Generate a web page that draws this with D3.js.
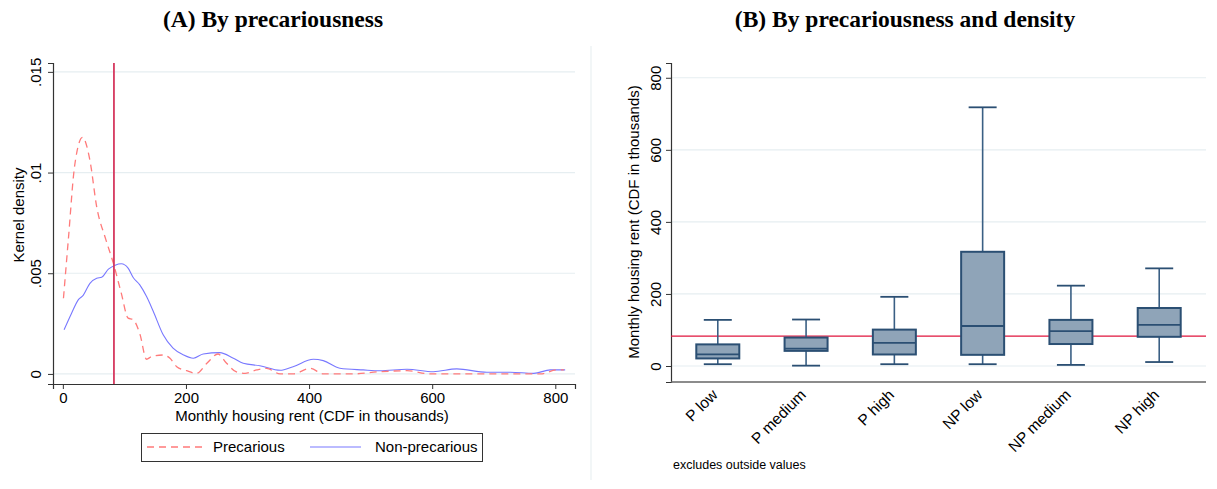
<!DOCTYPE html>
<html>
<head>
<meta charset="utf-8">
<script src="https://cdn.jsdelivr.net/npm/d3@7"></script>
<style>
  body { margin: 0; background: #fff; }
  text { font-family: Arial, "Liberation Sans", sans-serif; fill: #000; }
  .title { font-family: "Liberation Serif", "Times New Roman", serif; font-weight: bold; font-size: 23.5px; }
</style>
</head>
<body>
<div id="chart-area"></div>
<script>
// panel A: kernel densities (rent, density)
var rentPrec = [1, 9, 19, 32, 44, 55, 70, 82, 95, 106, 114, 125, 136, 144, 163, 174, 185, 201, 217, 234, 252, 266, 282, 296, 315, 331, 353, 374, 402, 423, 470, 515, 559, 597, 690, 776, 803, 814];
var densPrec = [0.00376, 0.0067, 0.0103, 0.01175, 0.0106, 0.0083, 0.00666, 0.0055, 0.0040, 0.00277, 0.0027, 0.0020, 0.00073, 0.00086, 0.00094, 0.00078, 0.00036, 0.00016, 0.00003, 0.00053, 0.00099, 0.00053, 0.0001, 0.00003, 0.0002, 0.00028, 0, 0, 0.00028, 0, 0, 0.00011, 0.00016, 0, 0, 0, 0.0002, 0.0002];

var rentNonPrec = [2, 14, 25, 33, 44, 55, 63, 74, 85, 95, 106, 114, 125, 136, 147, 163, 179, 196, 212, 228, 255, 277, 293, 320, 353, 374, 407, 423, 450, 488, 515, 559, 602, 640, 689, 727, 765, 792, 816];
var densNonPrec = [0.00219, 0.0030, 0.00368, 0.0039, 0.0045, 0.00475, 0.0048, 0.0052, 0.0054, 0.00547, 0.00525, 0.0048, 0.00442, 0.00384, 0.0031, 0.00194, 0.00128, 0.00094, 0.00078, 0.00099, 0.00106, 0.00078, 0.00053, 0.00041, 0.00018, 0.00036, 0.00073, 0.00066, 0.00028, 0.0002, 0.00016, 0.00023, 0.00011, 0.00025, 0.00008, 0.00008, 0.00003, 0.0002, 0.0002];

var medianRent = 83;

var xTicksA = [0, 200, 400, 600, 800];
var yTicksA = [0, 0.005, 0.01, 0.015];
var yTickLabelsA = ["0", ".005", ".01", ".015"];

// panel B: box plots
var groups = ["P low", "P medium", "P high", "NP low", "NP medium", "NP high"];
var whiskLo = [5, 1, 5, 5, 3, 11];
var q1 = [21, 42, 32, 31, 61, 81];
var med = [32, 48, 64, 111, 97, 114];
var q3 = [60, 79, 101, 317, 128, 161];
var whiskHi = [128, 129, 192, 718, 223, 271];

var yTicksB = [0, 200, 400, 600, 800];

var svg = d3.select("#chart-area").append("svg")
    .attr("width", 1217)
    .attr("height", 489);

var gridColor = "#e6eef1";
var axisColor = "#333";

// ---------- Panel A ----------
var xA = d3.scaleLinear().domain([-16, 832]).range([53, 575]);
var yA = d3.scaleLinear().domain([-0.0005, 0.01544]).range([384, 63]);

svg.append("text").attr("class", "title")
    .attr("x", 273).attr("y", 27).attr("text-anchor", "middle")
    .text("(A) By precariousness");

var gA = svg.append("g");

gA.selectAll(".gridA").data(yTicksA).enter().append("line")
    .attr("x1", 53).attr("x2", 575)
    .attr("y1", function(d){ return yA(d); })
    .attr("y2", function(d){ return yA(d); })
    .attr("stroke", gridColor).attr("stroke-width", 1.2);

var yAxisA = d3.axisLeft(yA).tickValues(yTicksA).tickSize(5)
    .tickFormat(function(d, i){ return yTickLabelsA[i]; });
var yAxA = gA.append("g").attr("transform", "translate(53,0)").call(yAxisA);
yAxA.select(".domain").attr("stroke", axisColor).attr("stroke-width", 1.2);
yAxA.selectAll(".tick line").attr("stroke", axisColor);
yAxA.selectAll(".tick text")
    .attr("font-size", 15)
    .attr("transform", "rotate(-90)")
    .attr("x", 0).attr("y", -12)
    .attr("dy", 0)
    .attr("text-anchor", "middle");

var xAxisA = d3.axisBottom(xA).tickValues(xTicksA).tickSize(5).tickFormat(d3.format("d"));
var xAxA = gA.append("g").attr("transform", "translate(0,384)").call(xAxisA);
xAxA.select(".domain").attr("stroke", axisColor).attr("stroke-width", 1.2);
xAxA.selectAll(".tick line").attr("stroke", axisColor);
xAxA.selectAll(".tick text").attr("font-size", 15).attr("y", 8);

gA.append("text")
    .attr("x", 312).attr("y", 421).attr("text-anchor", "middle")
    .attr("font-size", 15)
    .text("Monthly housing rent (CDF in thousands)");

gA.append("text")
    .attr("transform", "translate(24,215) rotate(-90)")
    .attr("text-anchor", "middle").attr("font-size", 15)
    .text("Kernel density");

var lineA = d3.line()
    .x(function(d){ return xA(d[0]); })
    .y(function(d){ return yA(d[1]); })
    .curve(d3.curveMonotoneX);

gA.append("path")
    .datum(d3.zip(rentNonPrec, densNonPrec))
    .attr("d", lineA)
    .attr("fill", "none").attr("stroke", "#7878ff").attr("stroke-width", 1.1);

gA.append("path")
    .datum(d3.zip(rentPrec, densPrec))
    .attr("d", lineA)
    .attr("fill", "none").attr("stroke", "#ff7a7a").attr("stroke-width", 1.3)
    .attr("stroke-dasharray", "7,5");

gA.append("line")
    .attr("x1", xA(medianRent)).attr("x2", xA(medianRent))
    .attr("y1", 63).attr("y2", 384)
    .attr("stroke", "#d6395f").attr("stroke-width", 1.8);

// legend
var leg = gA.append("g");
leg.append("rect")
    .attr("x", 141.5).attr("y", 433.5).attr("width", 341).attr("height", 28)
    .attr("fill", "#fff").attr("stroke", "#333").attr("stroke-width", 1);
leg.append("line")
    .attr("x1", 147).attr("x2", 204).attr("y1", 447).attr("y2", 447)
    .attr("stroke", "#ff7a7a").attr("stroke-width", 1.3).attr("stroke-dasharray", "7,5");
leg.append("text").attr("x", 213).attr("y", 452).attr("font-size", 15).text("Precarious");
leg.append("line")
    .attr("x1", 310).attr("x2", 361).attr("y1", 447).attr("y2", 447)
    .attr("stroke", "#7878ff").attr("stroke-width", 1.1);
leg.append("text").attr("x", 375).attr("y", 452).attr("font-size", 15).text("Non-precarious");

// separator between panels
svg.append("line")
    .attr("x1", 591).attr("x2", 591).attr("y1", 46).attr("y2", 480)
    .attr("stroke", "#e9f0f2").attr("stroke-width", 1.2);

// ---------- Panel B ----------
var xB = d3.scalePoint().domain(groups).range([671, 1206]).padding(0.53);
var yB = d3.scaleLinear().domain([-44.4, 841]).range([382, 63]);
var boxW = 43, capW = 28;

svg.append("text").attr("class", "title")
    .attr("x", 905).attr("y", 27).attr("text-anchor", "middle")
    .text("(B) By precariousness and density");

var gB = svg.append("g");

gB.selectAll(".gridB").data(yTicksB).enter().append("line")
    .attr("x1", 671).attr("x2", 1206)
    .attr("y1", function(d){ return yB(d); })
    .attr("y2", function(d){ return yB(d); })
    .attr("stroke", gridColor).attr("stroke-width", 1.2);

var yAxisB = d3.axisLeft(yB).tickValues(yTicksB).tickSize(5);
var yAxB = gB.append("g").attr("transform", "translate(671,0)").call(yAxisB);
yAxB.select(".domain").attr("stroke", axisColor).attr("stroke-width", 1.2);
yAxB.selectAll(".tick line").attr("stroke", axisColor);
yAxB.selectAll(".tick text")
    .attr("font-size", 15)
    .attr("transform", "rotate(-90)")
    .attr("x", 0).attr("y", -10).attr("dy", 0)
    .attr("text-anchor", "middle");

gB.append("line")
    .attr("x1", 671).attr("x2", 1206).attr("y1", 382).attr("y2", 382)
    .attr("stroke", "#666").attr("stroke-width", 1.5);

gB.append("text")
    .attr("transform", "translate(639,222) rotate(-90)")
    .attr("text-anchor", "middle").attr("font-size", 15)
    .text("Monthly housing rent (CDF in thousands)");

gB.selectAll(".xlab").data(groups).enter().append("text")
    .attr("font-size", 15.5)
    .attr("text-anchor", "end")
    .attr("transform", function(d){ return "translate(" + (xB(d) - 3) + ",392) rotate(-45)"; })
    .attr("dy", "0.35em")
    .text(function(d){ return d; });

gB.append("text")
    .attr("x", 673).attr("y", 469).attr("font-size", 12.5)
    .text("excludes outside values");

// median reference line, drawn below the boxes
gB.append("line")
    .attr("x1", 671).attr("x2", 1206)
    .attr("y1", yB(medianRent)).attr("y2", yB(medianRent))
    .attr("stroke", "#e0143d").attr("stroke-width", 1.3);

var boxColor = "#8fa4b8", boxLine = "#2b4f73";

var boxes = gB.selectAll(".box").data(groups).enter().append("g");

boxes.append("line")
    .attr("x1", function(d){ return xB(d); })
    .attr("x2", function(d){ return xB(d); })
    .attr("y1", function(d, i){ return yB(whiskHi[i]); })
    .attr("y2", function(d, i){ return yB(whiskLo[i]); })
    .attr("stroke", "#3a5f84").attr("stroke-width", 1.6);

[whiskHi, whiskLo].forEach(function(arr){
    boxes.append("line")
        .attr("x1", function(d){ return xB(d) - capW / 2; })
        .attr("x2", function(d){ return xB(d) + capW / 2; })
        .attr("y1", function(d, i){ return yB(arr[i]); })
        .attr("y2", function(d, i){ return yB(arr[i]); })
        .attr("stroke", boxLine).attr("stroke-width", 1.8);
});

boxes.append("rect")
    .attr("x", function(d){ return xB(d) - boxW / 2; })
    .attr("width", boxW)
    .attr("y", function(d, i){ return yB(q3[i]); })
    .attr("height", function(d, i){ return yB(q1[i]) - yB(q3[i]); })
    .attr("fill", boxColor).attr("stroke", boxLine).attr("stroke-width", 2);

boxes.append("line")
    .attr("x1", function(d){ return xB(d) - boxW / 2; })
    .attr("x2", function(d){ return xB(d) + boxW / 2; })
    .attr("y1", function(d, i){ return yB(med[i]); })
    .attr("y2", function(d, i){ return yB(med[i]); })
    .attr("stroke", boxLine).attr("stroke-width", 1.8);
</script>
</body>
</html>
